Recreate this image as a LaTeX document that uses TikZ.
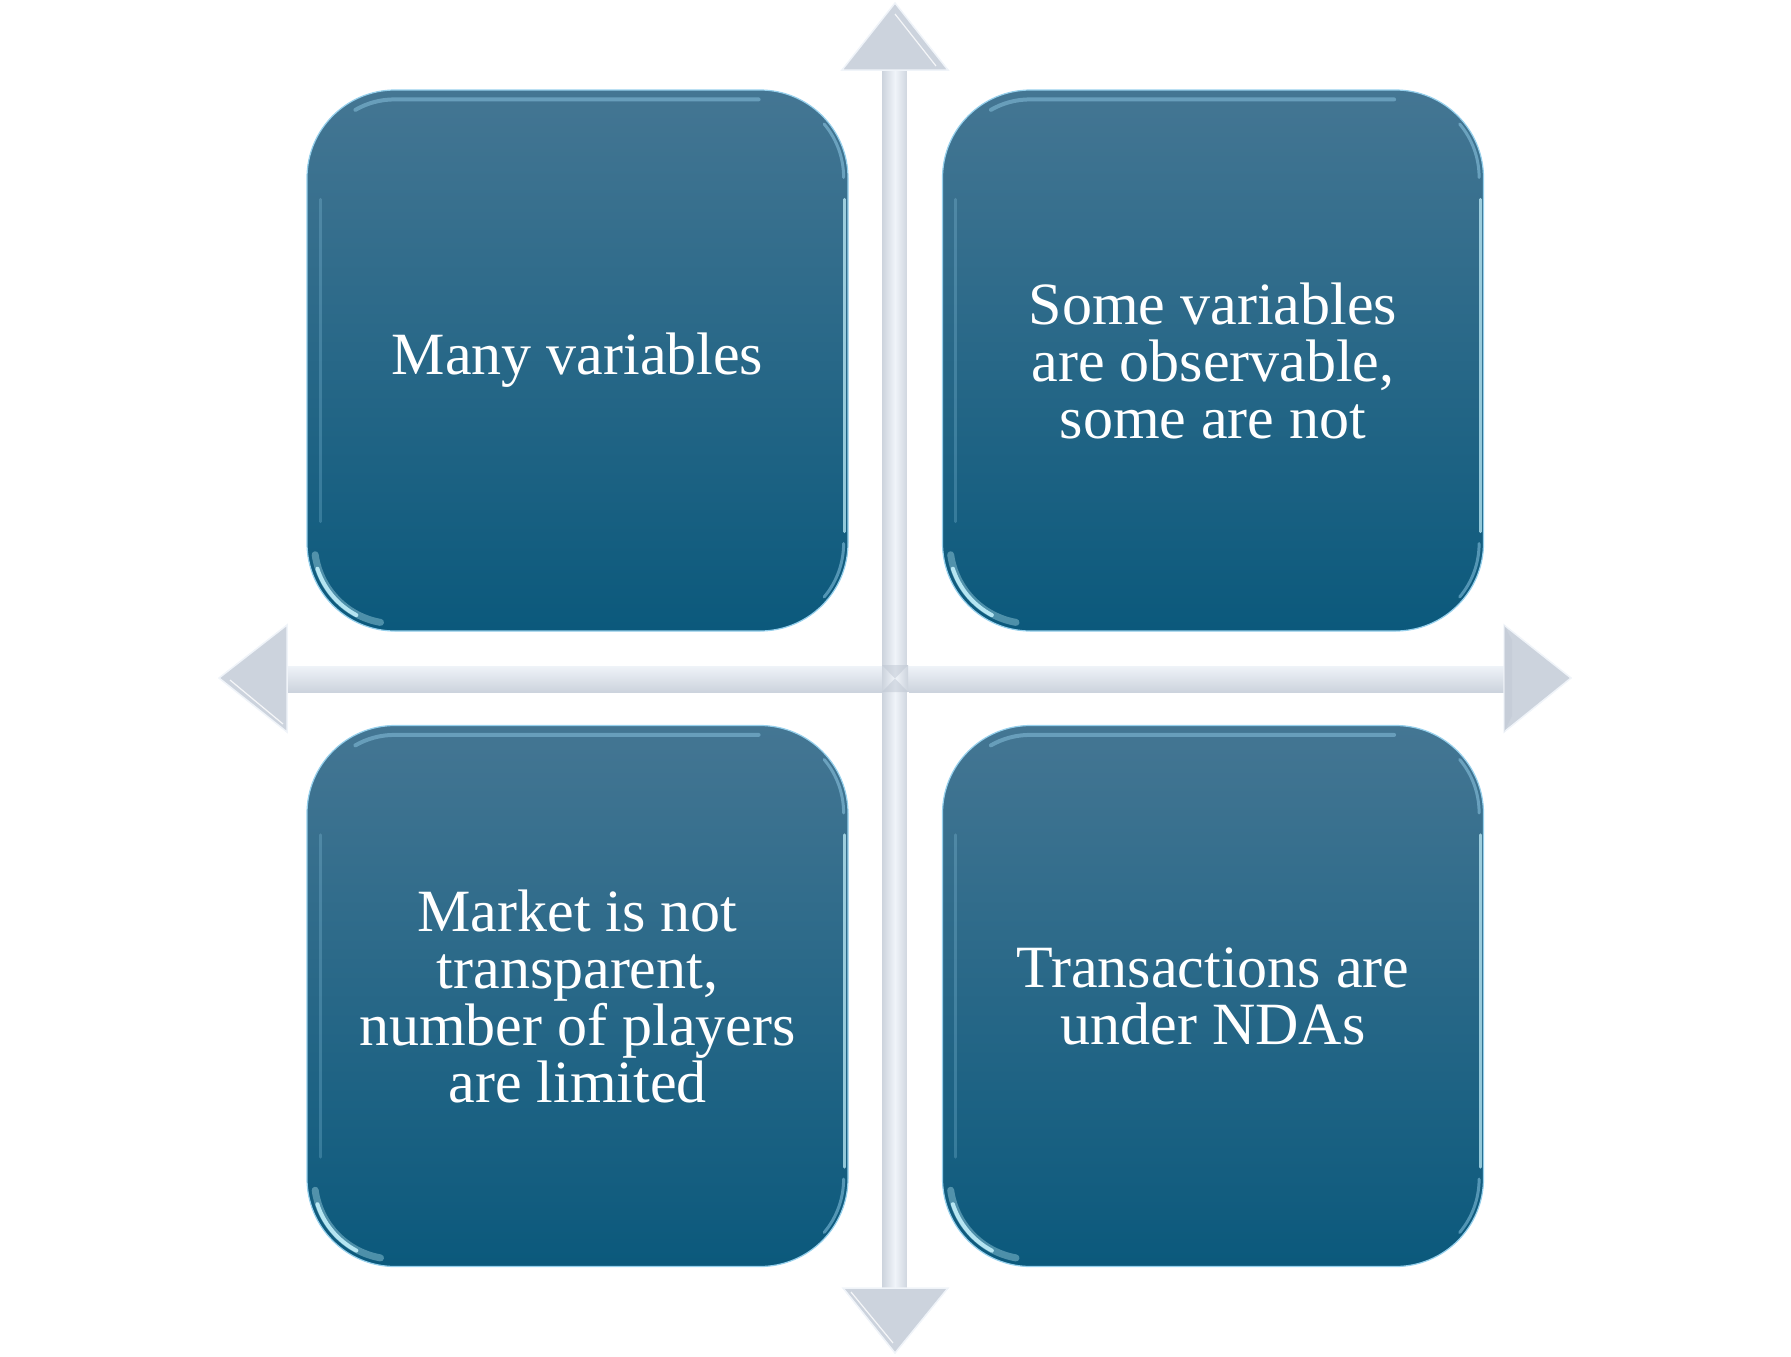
\documentclass[tikz,border=0pt]{standalone}
\usepackage{fontspec}
\setmainfont{Liberation Serif}
\usetikzlibrary{calc}
\definecolor{boxtop}{RGB}{68,118,147}
\definecolor{boxmid}{RGB}{15,93,128}
\definecolor{boxbot}{RGB}{11,89,124}
\definecolor{boxrim}{RGB}{150,208,236}
\definecolor{glow}{RGB}{200,245,255}
\definecolor{arrowgrey}{RGB}{204,211,221}
\definecolor{arrowlight}{RGB}{240,244,249}
\definecolor{arrowdark}{RGB}{190,198,210}
\tikzset{
  quad/.style={rounded corners=88pt, minimum width=541pt, minimum height=541pt,
    top color=boxtop, middle color=boxmid, bottom color=boxbot, draw=boxrim,
    line width=1.2pt, text=white, align=center, inner sep=0pt,
    font=\fontsize{60}{57}\selectfont},
  headshape/.style={fill=arrowgrey, draw=arrowlight, line width=1.5pt, line join=miter},
  bevel/.style={draw=white, line width=1.2pt, opacity=0.8},
}
\newcommand{\boxglow}[1]{%
  % bottom-left crescent
  \draw[glow, line width=7pt, opacity=0.35, line cap=round]
    ($(#1.south west)+(88,-88)$) ++(172:80) arc[start angle=172, end angle=100, radius=80];
  \draw[glow, line width=4pt, opacity=0.85, line cap=round]
    ($(#1.south west)+(88,-88)$) ++(162:81) arc[start angle=162, end angle=118, radius=81];
  % top rim highlight
  \draw[boxrim, line width=4pt, opacity=0.45, line cap=round]
    ($(#1.north west)+(88,88)$) ++(-120:78) arc[start angle=-120, end angle=-90, radius=78]
    -- ($(#1.north east)+(-90,10)$);
  % right edge highlight
  \draw[glow, line width=3pt, opacity=0.7, line cap=round]
    ($(#1.north east)+(-4,110)$) -- ($(#1.south east)+(-4,-100)$);
  \draw[boxrim, line width=3pt, opacity=0.5, line cap=round]
    ($(#1.north east)+(-88,88)$) ++(-40:83) arc[start angle=-40, end angle=0, radius=83];
  \draw[boxrim, line width=3pt, opacity=0.5, line cap=round]
    ($(#1.south east)+(-88,-88)$) ++(0:83) arc[start angle=0, end angle=40, radius=83];
  % left inner faint highlight
  \draw[boxrim, line width=3pt, opacity=0.25, line cap=round]
    ($(#1.north west)+(14,110)$) -- ($(#1.south west)+(14,-110)$);
}
\begin{document}
\begin{tikzpicture}[x=1pt,y=-1pt]
\useasboundingbox (0,0) rectangle (1791,1357);

% named arrow points
\coordinate (htl) at (287,665); \coordinate (hbr) at (1504,692);
\coordinate (vtl) at (882,70);  \coordinate (vbr) at (908,1288);

% horizontal shaft
\shade[top color=arrowlight, bottom color=arrowgrey] (htl) rectangle (hbr);
\draw[white, line width=1.5pt] (htl) -- (htl -| hbr);
% vertical shaft
\shade[left color=arrowgrey, right color=arrowgrey, middle color=arrowlight] (vtl) rectangle (vbr);
\draw[white, line width=1.5pt] (908,70) -- (908,665);
\draw[white, line width=1.5pt] (908,692) -- (908,1288);
\fill[arrowdark, opacity=0.5] (882,665) -- (895,678.5) -- (908,665) -- cycle;
\fill[arrowdark, opacity=0.5] (882,692) -- (895,678.5) -- (908,692) -- cycle;

% arrow heads
\path[headshape] (895,3) -- (948,70) -- (842,70) -- cycle;
\draw[bevel] (895,14) -- (936,66);
\path[headshape] (895,1353) -- (948,1288) -- (843,1288) -- cycle;
\draw[bevel] (851,1292) -- (893,1343);
\path[headshape] (219,678) -- (287,625) -- (287,732) -- cycle;
\draw[bevel] (230,680) -- (283,724);
\path[headshape] (1571,678) -- (1504,625) -- (1504,732) -- cycle;
\fill[arrowdark, opacity=0.4] (1504,625) -- (1512,640) -- (1512,716) -- (1504,732) -- cycle;

% quadrant boxes
\node[quad] (q1) at (577.5,360.5) {Many variables};
\node[quad] (q2) at (1213,360.5) {Some variables\\are observable,\\some are not};
\node[quad] (q3) at (577.5,996) {Market is not\\transparent,\\number of players\\are limited};
\node[quad] (q4) at (1213,996) {Transactions are\\under NDAs};

\boxglow{q1}
\boxglow{q2}
\boxglow{q3}
\boxglow{q4}
\end{tikzpicture}
\end{document}
